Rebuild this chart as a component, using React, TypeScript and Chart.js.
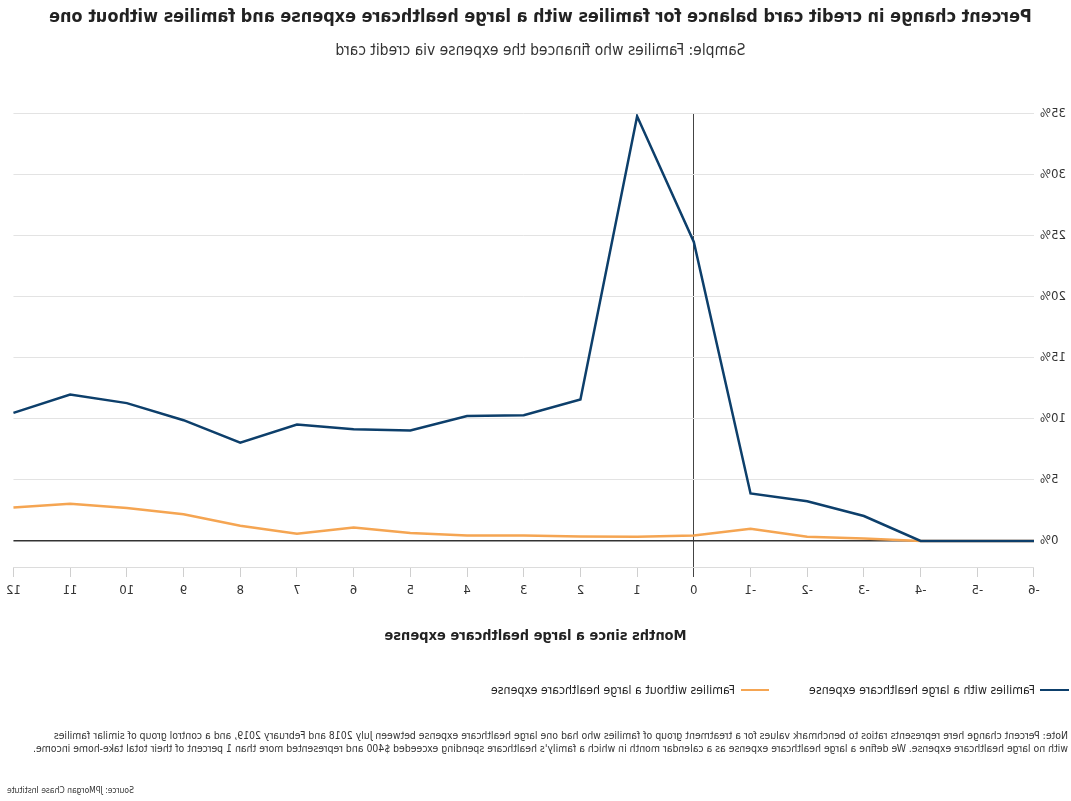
import React, { useEffect, useRef } from 'react';
import { Chart, registerables } from 'chart.js';

Chart.register(...registerables);

const FONT = "'Liberation Sans Narrow', 'DejaVu Sans Condensed', 'Arial Narrow', sans-serif";

const titleText = 'Percent change in credit card balance for families with a large healthcare expense and families without one';
const subtitleText = 'Sample: Families who financed the expense via credit card';
const xAxisTitle = 'Months since a large healthcare expense';

const months = ['-6', '-5', '-4', '-3', '-2', '-1', '0', '1', '2', '3', '4', '5', '6', '7', '8', '9', '10', '11', '12'];
const withExpense = [0, 0, 0, 2.05, 3.25, 3.9, 24.5, 34.8, 11.6, 10.3, 10.25, 9.05, 9.15, 9.55, 8.05, 9.9, 11.3, 12.0, 10.5];
const withoutExpense = [0, 0, 0, 0.2, 0.35, 1.0, 0.45, 0.35, 0.37, 0.45, 0.45, 0.65, 1.1, 0.6, 1.25, 2.2, 2.7, 3.05, 2.75];
const yTickValues = [0, 5, 10, 15, 20, 25, 30, 35];

const seriesNames = ['Families with a large healthcare expense', 'Families without a large healthcare expense'];
const seriesColors = ['#0d3f6b', '#f5a552'];

const noteLine1 = 'Note: Percent change here represents ratios to benchmark values for a treatment group of families who had one large healthcare expense between July 2018 and February 2019, and a control group of similar families';
const noteLine2 = "with no large healthcare expense. We define a large healthcare expense as a calendar month in which a family's healthcare spending exceeded $400 and represented more than 1 percent of their total take-home income.";
const sourceText = 'Source: JPMorgan Chase Institute';

export default function App() {
  const canvasRef = useRef<HTMLCanvasElement>(null);

  useEffect(() => {
    if (!canvasRef.current) return;
    const zeroIndex = months.indexOf('0');
    const chart = new Chart(canvasRef.current, {
      type: 'line',
      data: {
        labels: months,
        datasets: [
          {
            label: seriesNames[0],
            data: withExpense,
            borderColor: seriesColors[0],
            backgroundColor: seriesColors[0],
            borderWidth: 2.5,
            pointRadius: 0,
            tension: 0,
          },
          {
            label: seriesNames[1],
            data: withoutExpense,
            borderColor: seriesColors[1],
            backgroundColor: seriesColors[1],
            borderWidth: 2.5,
            pointRadius: 0,
            tension: 0,
          },
        ],
      },
      options: {
        responsive: false,
        animation: false,
        layout: { padding: { left: 0, right: 10, top: 0, bottom: 0 } },
        plugins: {
          legend: { display: false },
          tooltip: { enabled: false },
          title: {
            display: true,
            text: titleText,
            color: '#222',
            font: { family: FONT, size: 17.9, weight: 'bold' },
            padding: { top: 6.2, bottom: 10 },
          },
          subtitle: {
            display: true,
            text: subtitleText,
            color: '#333',
            font: { family: FONT, size: 15.5 },
            padding: { top: 3.9, bottom: 53.7 },
          },
        },
        scales: {
          x: {
            type: 'category',
            offset: false,
            grid: {
              color: (ctx: any) => (ctx.index === zeroIndex ? '#444' : 'rgba(0,0,0,0)'),
              tickColor: (ctx: any) => (ctx.index === zeroIndex ? '#444' : '#cfcfcf'),
              tickLength: 10,
              lineWidth: 1,
            },
            border: { display: true, color: '#dcdcdc' },
            ticks: {
              color: '#333',
              font: { family: FONT, size: 13 },
              padding: 6,
              maxRotation: 0,
              autoSkip: false,
            },
            afterFit: (s: any) => {
              s.height = 53;
            },
          },
          y: {
            min: -2.13,
            max: 35,
            afterBuildTicks: (s: any) => {
              s.ticks = yTickValues.map((v) => ({ value: v }));
            },
            ticks: {
              color: '#333',
              font: { family: FONT, size: 13 },
              padding: 6,
              callback: (v: any) => `${v}%`,
            },
            grid: {
              color: (ctx: any) => (ctx.tick && ctx.tick.value === 0 ? '#333' : '#e3e3e3'),
              lineWidth: (ctx: any) => (ctx.tick && ctx.tick.value === 0 ? 1.5 : 1),
              drawTicks: false,
            },
            border: { display: false },
            afterFit: (s: any) => {
              s.width = 37;
            },
          },
        },
      },
    });
    return () => chart.destroy();
  }, []);

  const textStyle: React.CSSProperties = { fontFamily: FONT, color: '#222', position: 'absolute', whiteSpace: 'nowrap' };

  return (
    <div
      style={{
        position: 'fixed',
        left: 0,
        top: 0,
        width: 1071,
        height: 801,
        background: '#fff',
        transform: 'scaleX(-1)',
        overflow: 'hidden',
      }}
    >
      <canvas ref={canvasRef} width={1071} height={620} style={{ position: 'absolute', left: 0, top: 0 }} />
      <div style={{ ...textStyle, left: 0, width: 1071, top: 626, textAlign: 'center', fontSize: 14.5, fontWeight: 'bold', lineHeight: '18px' }}>
        {xAxisTitle}
      </div>
      <div style={{ ...textStyle, left: 2, top: 682, fontSize: 12.3, lineHeight: '16px', display: 'flex', alignItems: 'center' }}>
        <span style={{ display: 'inline-block', width: 29, height: 2, background: seriesColors[0], marginRight: 5 }} />
        <span style={{ marginRight: 40 }}>{seriesNames[0]}</span>
        <span style={{ display: 'inline-block', width: 28, height: 2, background: seriesColors[1], marginRight: 6 }} />
        <span>{seriesNames[1]}</span>
      </div>
      <div style={{ ...textStyle, left: 3, top: 729, fontSize: 10.4, lineHeight: '13px', color: '#333' }}>
        {noteLine1}
        <br />
        {noteLine2}
      </div>
      <div style={{ ...textStyle, right: 7, top: 784, fontSize: 8.5, lineHeight: '12px', color: '#333' }}>{sourceText}</div>
    </div>
  );
}
